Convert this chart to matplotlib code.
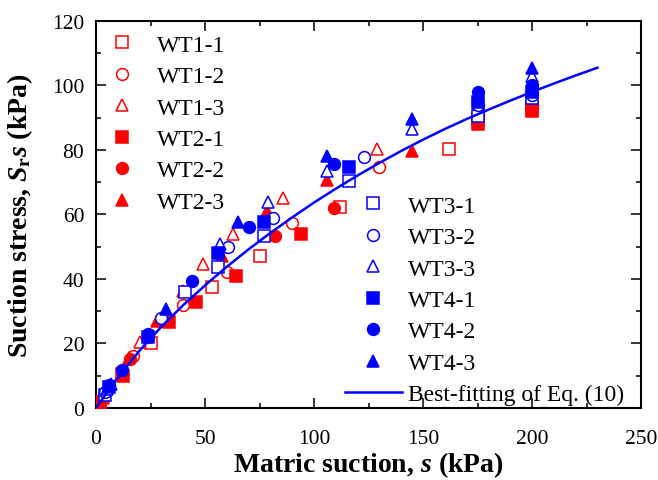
import numpy as np
import matplotlib
matplotlib.use("Agg")
import matplotlib.pyplot as plt

plt.rcParams['font.family'] = ['Liberation Serif', 'DejaVu Serif']
plt.rcParams['mathtext.fontset'] = 'custom'
plt.rcParams['mathtext.rm'] = 'Liberation Serif:bold'
plt.rcParams['mathtext.it'] = 'Liberation Serif:italic:bold'
plt.rcParams['mathtext.bf'] = 'Liberation Serif:bold'

# --- data (matric suction s, suction stress Sr*s) ---
wt1_1_s = [2, 12, 25, 53, 75, 112, 162, 175, 200]
wt1_1_y = [2, 10.5, 20.2, 37.5, 47, 62.3, 80.3, 89.5, 93]
wt1_2_s = [3, 17, 40, 60, 90, 130, 175, 200]
wt1_2_y = [3, 16, 32, 42.2, 57.3, 74.7, 91, 94]
wt1_3_s = [3, 20, 49, 63, 86, 129, 175, 200]
wt1_3_y = [3.5, 20.4, 44.6, 54, 65, 80.3, 93, 95]

wt2_1_s = [2, 12.4, 33.5, 46, 64, 94, 175, 200]
wt2_1_y = [1.5, 10, 26.6, 33, 41, 54, 88, 92]
wt2_2_s = [2, 15.6, 24, 82, 109, 175, 200]
wt2_2_y = [2, 15.2, 22, 53.4, 62, 92, 93]
wt2_3_s = [3, 15, 28, 40, 58, 78.5, 106, 145, 175, 200]
wt2_3_y = [3, 15.5, 27.1, 36.4, 47, 61, 70.7, 79.7, 93, 94]

wt3_1_s = [4, 41, 56, 77, 116, 175, 200]
wt3_1_y = [4, 36, 43.7, 53.4, 70.4, 90.6, 96]
wt3_2_s = [4, 30, 60.5, 81, 123, 175, 200]
wt3_2_y = [5, 27.8, 50, 59, 77.8, 94, 97]
wt3_3_s = [5, 57, 79, 106, 145, 175, 200]
wt3_3_y = [6, 50.8, 64, 73.5, 86.5, 96, 103]

wt4_1_s = [6, 24, 56, 77, 116, 175, 200]
wt4_1_y = [6.5, 22, 48, 57.6, 74.7, 95, 98]
wt4_2_s = [6, 12, 24, 44, 70, 109, 175, 200]
wt4_2_y = [7, 11.9, 23, 39.4, 56, 75.5, 98.1, 100]
wt4_3_s = [7, 32, 65, 106, 145, 175, 200]
wt4_3_y = [7.5, 30.7, 57.6, 78, 89.6, 97, 105.5]

# best-fitting curve of Eq. (10)
fit_s = [0, 10, 20, 30, 40, 50, 60, 70, 80, 90, 100, 110, 120, 130, 140, 150,
         160, 170, 180, 190, 200, 210, 220, 230]
fit_y = [0, 9.5, 17.8, 25.2, 31.9, 38.0, 43.8, 49.2, 54.3, 59.1, 63.7, 68.0,
         72.1, 76.0, 79.7, 83.2, 86.5, 89.6, 92.5, 95.3, 98.0, 100.6, 103.1, 105.5]

red = '#ff0000'
blue = '#0000ff'
ms = 8.5

fig = plt.figure(figsize=(6.58, 4.81), dpi=100)
ax = fig.add_axes([0.1459, 0.1497, 0.8283, 0.8046])

series = [
    (wt1_1_s, wt1_1_y, 's', red, False, 'WT1-1'),
    (wt1_2_s, wt1_2_y, 'o', red, False, 'WT1-2'),
    (wt1_3_s, wt1_3_y, '^', red, False, 'WT1-3'),
    (wt2_1_s, wt2_1_y, 's', red, True, 'WT2-1'),
    (wt2_2_s, wt2_2_y, 'o', red, True, 'WT2-2'),
    (wt2_3_s, wt2_3_y, '^', red, True, 'WT2-3'),
    (wt3_1_s, wt3_1_y, 's', blue, False, 'WT3-1'),
    (wt3_2_s, wt3_2_y, 'o', blue, False, 'WT3-2'),
    (wt3_3_s, wt3_3_y, '^', blue, False, 'WT3-3'),
    (wt4_1_s, wt4_1_y, 's', blue, True, 'WT4-1'),
    (wt4_2_s, wt4_2_y, 'o', blue, True, 'WT4-2'),
    (wt4_3_s, wt4_3_y, '^', blue, True, 'WT4-3'),
]

handles = []
for xs, ys, mk, col, filled, lab in series:
    h, = ax.plot(xs, ys, linestyle='none', marker=mk, markersize=ms,
                 markeredgecolor=col, markerfacecolor=col if filled else 'white',
                 markeredgewidth=1.1, label=lab, zorder=3)
    handles.append(h)

fit_line, = ax.plot(fit_s, fit_y, color=blue, lw=1.8, zorder=4,
                    label='Best-fitting of Eq. (10)')

ax.set_xlim(0, 250)
ax.set_ylim(0, 120)
ax.set_xticks(np.arange(0, 251, 50))
ax.set_xticks(np.arange(25, 250, 50), minor=True)
ax.set_yticks(np.arange(0, 121, 20))
ax.set_yticks(np.arange(10, 120, 20), minor=True)
ax.tick_params(which='both', direction='in', top=True, right=True, width=1.1,
               labelsize=15.5)
ax.tick_params(which='major', length=7.2)
ax.tick_params(which='minor', length=3.6)
ax.tick_params(axis='x', which='major', pad=15)
ax.tick_params(axis='y', which='major', pad=8.5)
for sp in ax.spines.values():
    sp.set_linewidth(1.5)

ax.set_xlabel(r'Matric suction, $s$ (kPa)', fontsize=20, fontweight='bold')
ax.set_ylabel(r'Suction stress, $S_{\mathrm{r}}s$ (kPa)', fontsize=20,
              fontweight='bold')
ax.xaxis.set_label_coords(0.5, -0.107)
ax.yaxis.set_label_coords(-0.112, 0.5)

leg1 = ax.legend(handles=handles[:6], loc='upper left', bbox_to_anchor=(0.004, 0.966),
                 frameon=False, fontsize=17, handlelength=2.0, handletextpad=0.5,
                 labelspacing=0.42, borderpad=0, borderaxespad=0)
ax.add_artist(leg1)
ax.legend(handles=handles[6:] + [fit_line], loc='lower left',
          bbox_to_anchor=(0.457, 0.007), frameon=False, fontsize=17,
          handlelength=2.4, handletextpad=0.25, labelspacing=0.42,
          borderpad=0, borderaxespad=0)

fig.savefig('out.png', dpi=100)
